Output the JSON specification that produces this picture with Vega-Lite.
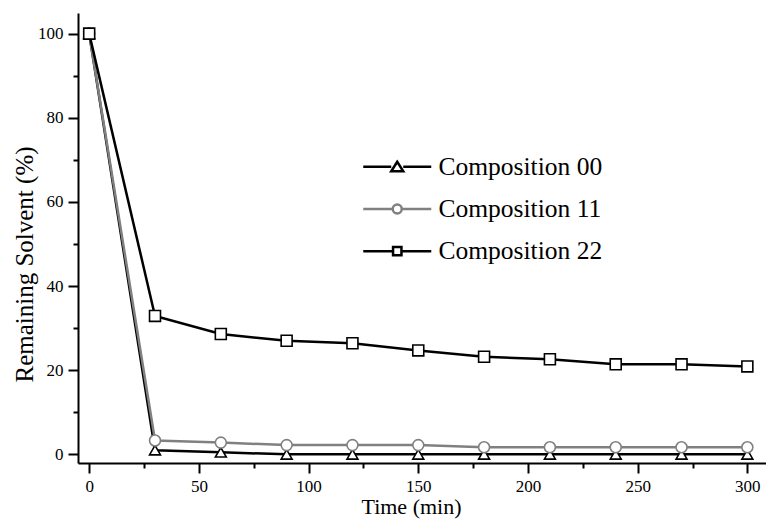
{
  "$schema": "https://vega.github.io/schema/vega-lite/v6.json",
  "width": 688,
  "height": 450,
  "autosize": "none",
  "padding": {"left": 78, "top": 13, "right": 0, "bottom": 56},
  "background": "white",
  "config": {
    "view": {"stroke": null},
    "font": "Liberation Serif",
    "axis": {
      "grid": false,
      "domainColor": "black",
      "domainWidth": 2,
      "tickColor": "black",
      "tickWidth": 2,
      "labelFont": "Liberation Serif",
      "labelFontSize": 17,
      "labelColor": "black",
      "titleFont": "Liberation Serif",
      "titleFontSize": 25,
      "titleFontWeight": "normal",
      "titleColor": "black"
    }
  },
  "data": {
    "values": [
      {"t": 0, "v": 100, "series": "Composition 00"},
      {"t": 30, "v": 1.0, "series": "Composition 00"},
      {"t": 60, "v": 0.5, "series": "Composition 00"},
      {"t": 90, "v": 0, "series": "Composition 00"},
      {"t": 120, "v": 0, "series": "Composition 00"},
      {"t": 150, "v": 0, "series": "Composition 00"},
      {"t": 180, "v": 0, "series": "Composition 00"},
      {"t": 210, "v": 0, "series": "Composition 00"},
      {"t": 240, "v": 0, "series": "Composition 00"},
      {"t": 270, "v": 0, "series": "Composition 00"},
      {"t": 300, "v": 0, "series": "Composition 00"},
      {"t": 0, "v": 100, "series": "Composition 11"},
      {"t": 30, "v": 3.3, "series": "Composition 11"},
      {"t": 60, "v": 2.8, "series": "Composition 11"},
      {"t": 90, "v": 2.2, "series": "Composition 11"},
      {"t": 120, "v": 2.2, "series": "Composition 11"},
      {"t": 150, "v": 2.2, "series": "Composition 11"},
      {"t": 180, "v": 1.7, "series": "Composition 11"},
      {"t": 210, "v": 1.7, "series": "Composition 11"},
      {"t": 240, "v": 1.7, "series": "Composition 11"},
      {"t": 270, "v": 1.7, "series": "Composition 11"},
      {"t": 300, "v": 1.7, "series": "Composition 11"},
      {"t": 0, "v": 100, "series": "Composition 22"},
      {"t": 30, "v": 32.9, "series": "Composition 22"},
      {"t": 60, "v": 28.6, "series": "Composition 22"},
      {"t": 90, "v": 27.0, "series": "Composition 22"},
      {"t": 120, "v": 26.4, "series": "Composition 22"},
      {"t": 150, "v": 24.7, "series": "Composition 22"},
      {"t": 180, "v": 23.2, "series": "Composition 22"},
      {"t": 210, "v": 22.6, "series": "Composition 22"},
      {"t": 240, "v": 21.4, "series": "Composition 22"},
      {"t": 270, "v": 21.4, "series": "Composition 22"},
      {"t": 300, "v": 20.9, "series": "Composition 22"}
    ]
  },
  "resolve": {"axis": {"x": "independent", "y": "independent"}},
  "layer": [
    {
      "mark": {"type": "line", "strokeWidth": 2.5},
      "encoding": {
        "x": {
          "field": "t", "type": "quantitative",
          "scale": {"domain": [-5.1, 308.5], "nice": false, "zero": false},
          "axis": {"orient": "bottom", "values": [0, 50, 100, 150, 200, 250, 300], "tickSize": 10, "labelPadding": 5,
                   "title": "Time (min)", "titleFontSize": 22, "titleX": 333, "titleY": 50, "titleBaseline": "alphabetic"}
        },
        "y": {
          "field": "v", "type": "quantitative",
          "scale": {"domain": [-2.05, 104.9], "nice": false, "zero": false},
          "axis": {"orient": "left", "values": [0, 20, 40, 60, 80, 100], "tickSize": 10, "labelPadding": 5,
                   "title": "Remaining Solvent (%)", "titleX": -46, "titleY": 251, "titleBaseline": "alphabetic", "titleAngle": -90}
        },
        "color": {
          "field": "series", "type": "nominal",
          "scale": {"domain": ["Composition 00", "Composition 11", "Composition 22"], "range": ["black", "#808080", "black"]},
          "legend": {
            "orient": "none", "legendX": 306.5, "legendY": 141, "title": null, "padding": 0,
            "labelFont": "Liberation Serif", "labelFontSize": 25.5, "labelColor": "black", "labelLimit": 0,
            "symbolType": "M-3.4,0L-0.55,0M0.55,0L3.4,0",
            "symbolSize": 400, "symbolStrokeWidth": 2.5, "symbolFillColor": "white",
            "labelOffset": 28.5, "rowPadding": 15.2,
            "encode": {
              "symbols": {
                "update": {
                  "shape": {"signal": "datum.value === 'Composition 00' ? 'M-3.4,0L-0.6,0M0.6,0L3.4,0M0,-0.5L-0.6,0.45L0.6,0.45Z' : (datum.value === 'Composition 11' ? 'M-3.4,0L-0.45,0M0.45,0L3.4,0M0.45,0A0.45,0.45,0,1,1,-0.45,0A0.45,0.45,0,1,1,0.45,0Z' : 'M-3.4,0L-0.42,0M0.42,0L3.4,0M-0.42,-0.42L0.42,-0.42L0.42,0.42L-0.42,0.42Z')"},
                  "fill": {"value": "white"}
                }
              }
            }
          }
        },
        "detail": {"field": "series"}
      }
    },
    {
      "transform": [{"filter": "datum.series === 'Composition 00'"}],
      "mark": {"type": "point", "shape": "triangle-up", "filled": true, "fill": "white", "stroke": "black", "strokeWidth": 1.6, "size": 120, "opacity": 1},
      "encoding": {
        "x": {
          "field": "t", "type": "quantitative",
          "axis": {"orient": "bottom", "values": [25, 75, 125, 175, 225, 275], "tickSize": 5, "labels": false, "domain": false, "title": null}
        },
        "y": {
          "field": "v", "type": "quantitative",
          "axis": {"orient": "left", "values": [10, 30, 50, 70, 90], "tickSize": 5, "labels": false, "domain": false, "title": null}
        }
      }
    },
    {
      "transform": [{"filter": "datum.series === 'Composition 11'"}],
      "mark": {"type": "point", "shape": "circle", "filled": true, "fill": "white", "stroke": "#808080", "strokeWidth": 1.6, "size": 120, "opacity": 1},
      "encoding": {
        "x": {"field": "t", "type": "quantitative", "axis": null},
        "y": {"field": "v", "type": "quantitative", "axis": null}
      }
    },
    {
      "transform": [{"filter": "datum.series === 'Composition 22'"}],
      "mark": {"type": "point", "shape": "square", "filled": true, "fill": "white", "stroke": "black", "strokeWidth": 1.6, "size": 120, "opacity": 1},
      "encoding": {
        "x": {"field": "t", "type": "quantitative", "axis": null},
        "y": {"field": "v", "type": "quantitative", "axis": null}
      }
    }
  ]
}
